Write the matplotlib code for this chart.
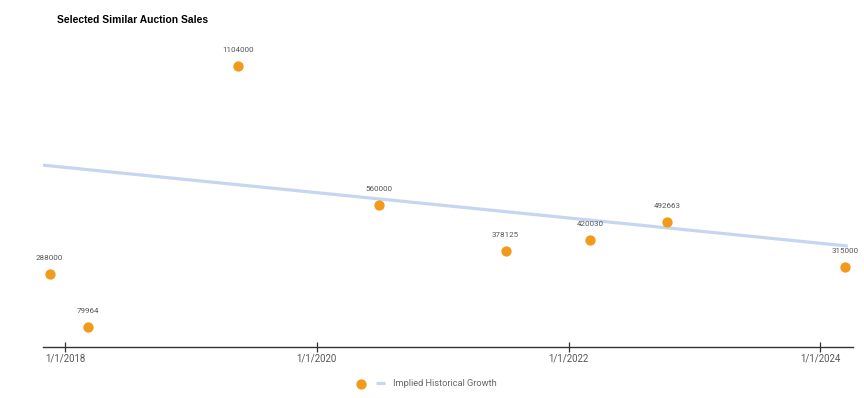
import matplotlib
matplotlib.use("Agg")
import matplotlib.pyplot as plt
import matplotlib.dates as mdates
from matplotlib.legend_handler import HandlerTuple
import pandas as pd

# Sale dates and prices
sale_dates = pd.to_datetime(["2017-11-17", "2018-03-07", "2019-05-17", "2020-06-30",
                             "2021-07-02", "2022-03-04", "2022-10-14", "2024-03-13"])
sale_prices = [288000, 79964, 1104000, 560000, 378125, 420030, 492663, 315000]

# Trend line end points (Implied Historical Growth)
trend_dates = pd.to_datetime(["2017-10-29", "2024-03-21"])
trend_values = [716000, 398000]

tick_dates = pd.to_datetime(["2018-01-01", "2020-01-01", "2022-01-01", "2024-01-01"])

orange = "#F29B1A"
trend_col = "#C5D6F0"

plt.rcParams['font.family'] = ['Roboto', 'DejaVu Sans']

fig = plt.figure(figsize=(8.64, 3.98), dpi=100)
ax = fig.add_axes([42.7/864, 1 - 347.3/398, (853 - 42.7)/864, 305.3/398])

line, = ax.plot(trend_dates, trend_values, color=trend_col, lw=2.3, zorder=2,
                solid_capstyle='butt')
dots = ax.scatter(sale_dates, sale_prices, s=55, color=orange, zorder=3, linewidths=0)

for d, v in zip(sale_dates, sale_prices):
    ax.annotate(str(v), (d, v), xytext=(0, 11.5), textcoords='offset points',
                ha='center', va='center', fontsize=5.8, color='#555555')

ax.set_xlim(pd.Timestamp("2017-10-28"), pd.Timestamp("2024-04-05"))
ax.set_ylim(0, 1200000)

ax.set_xticks(tick_dates)
ax.xaxis.set_major_formatter(mdates.DateFormatter("%-m/%-d/%Y"))
ax.set_yticks([])
for s in ["left", "right", "top"]:
    ax.spines[s].set_visible(False)
ax.spines["bottom"].set_color("#333333")
ax.spines["bottom"].set_linewidth(1.0)
ax.tick_params(axis='x', direction='inout', length=6.5, width=0.9, color='#333333',
               labelsize=6.9, labelcolor='#555555', pad=1.5)

fig.text(57/864, 1 - 20/398, "Selected Similar Auction Sales", fontsize=7.4,
         weight='bold', va='center', ha='left', family='Liberation Sans')

fig.legend([(dots, line)], ["Implied Historical Growth"],
           handler_map={tuple: HandlerTuple(ndivide=None, pad=1.1)},
           loc='center left', bbox_to_anchor=(357/864, 1 - 383.5/398),
           frameon=False, fontsize=6.7, handlelength=3.0, handletextpad=0.9,
           borderpad=0, borderaxespad=0, labelcolor='#666666')

fig.savefig("out.png", dpi=100)
